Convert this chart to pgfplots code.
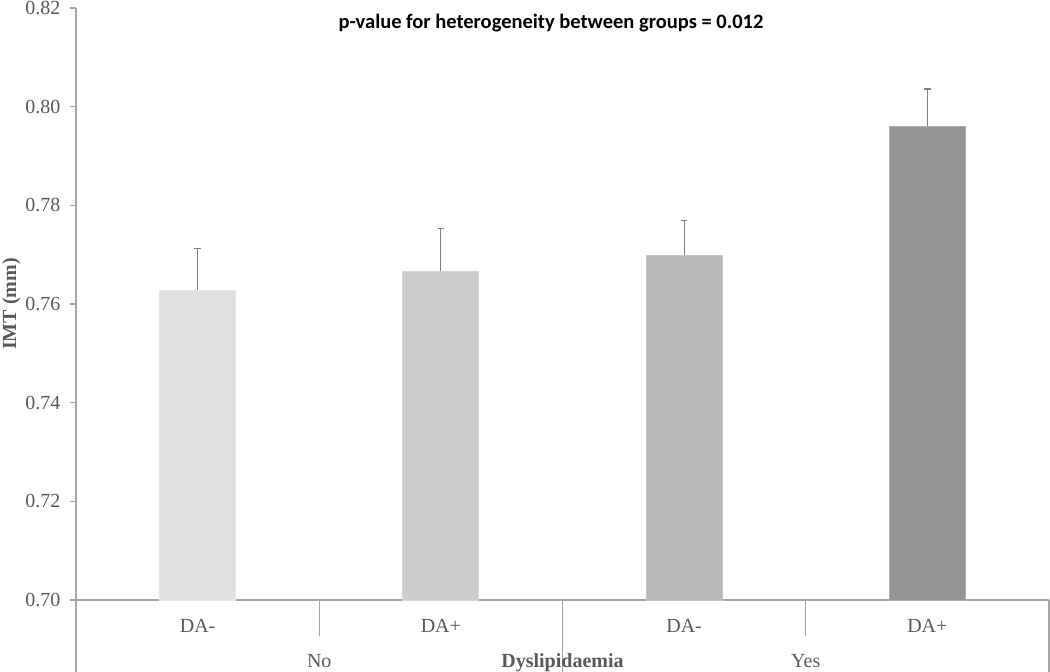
\documentclass[border=0pt]{standalone}
\usepackage{pgfplots}
\pgfplotsset{compat=1.18}
\usepackage{fontspec}
\setmainfont{Liberation Serif}
\newfontfamily\titlefont{Carlito}
\definecolor{axisgray}{HTML}{A6A6A6}
\definecolor{textgray}{HTML}{595959}
\definecolor{errgray}{HTML}{7F7F7F}
\definecolor{cA}{HTML}{E0E0E0}
\definecolor{cB}{HTML}{CCCCCC}
\definecolor{cC}{HTML}{B8B8B8}
\definecolor{cD}{HTML}{959595}
\begin{document}
\begin{tikzpicture}
\useasboundingbox (0,0) rectangle (1050bp,672bp);
\begin{axis}[
  at={(76bp,72bp)}, anchor=south west,
  scale only axis, width=973bp, height=592bp,
  xmin=-0.5, xmax=3.5, ymin=0.70, ymax=0.82,
  clip=false,
  axis x line*=bottom, axis y line*=left,
  axis line style={draw=axisgray, line width=1.2bp},
  ytick={0.70,0.72,0.74,0.76,0.78,0.80,0.82},
  yticklabel style={/pgf/number format/fixed, /pgf/number format/fixed zerofill, /pgf/number format/precision=2},
  /pgf/number format/assume math mode=true,
  xtick={0,1,2,3}, xticklabels={DA-,DA+,DA-,DA+},
  major x tick style={draw=none},
  major y tick style={draw=axisgray, line width=1.2bp},
  tick align=outside, major tick length=6bp,
  ticklabel style={font=\fontsize{20bp}{24bp}\selectfont, text=textgray},
  xticklabel style={anchor=base, yshift=-26bp},
  yticklabel style={xshift=-6bp},
  ybar, bar width=76bp,
]
\addplot[ybar, bar shift=0pt, fill=cA, draw=cA!80!white, line width=0.8bp,
  error bars/.cd, y dir=plus, y explicit,
  error bar style={draw=errgray, line width=1.2bp},
  error mark options={rotate=90, mark size=3.2bp, draw=errgray, line width=1.2bp}]
  coordinates {(0,0.7628) +- (0,0.0085)};
\addplot[ybar, bar shift=0pt, fill=cB, draw=cB!80!white, line width=0.8bp,
  error bars/.cd, y dir=plus, y explicit,
  error bar style={draw=errgray, line width=1.2bp},
  error mark options={rotate=90, mark size=3.2bp, draw=errgray, line width=1.2bp}]
  coordinates {(1,0.7666) +- (0,0.0087)};
\addplot[ybar, bar shift=0pt, fill=cC, draw=cC!80!white, line width=0.8bp,
  error bars/.cd, y dir=plus, y explicit,
  error bar style={draw=errgray, line width=1.2bp},
  error mark options={rotate=90, mark size=3.2bp, draw=errgray, line width=1.2bp}]
  coordinates {(2,0.7699) +- (0,0.0071)};
\addplot[ybar, bar shift=0pt, fill=cD, draw=cD!75!white, line width=0.8bp,
  error bars/.cd, y dir=plus, y explicit,
  error bar style={draw=errgray, line width=1.2bp},
  error mark options={rotate=90, mark size=3.2bp, draw=errgray, line width=1.2bp}]
  coordinates {(3,0.7961) +- (0,0.0075)};
% category separators
\draw[axisgray, line width=1.2bp] (axis cs:-0.5,0.70) -- ([yshift=-72bp]axis cs:-0.5,0.70);
\draw[axisgray, line width=1.2bp] (axis cs:0.5,0.70) -- ([yshift=-36bp]axis cs:0.5,0.70);
\draw[axisgray, line width=1.2bp] (axis cs:1.5,0.70) -- ([yshift=-72bp]axis cs:1.5,0.70);
\draw[axisgray, line width=1.2bp] (axis cs:2.5,0.70) -- ([yshift=-36bp]axis cs:2.5,0.70);
\draw[axisgray, line width=1.2bp] (axis cs:3.5,0.70) -- ([yshift=-72bp]axis cs:3.5,0.70);
% group labels
\node[anchor=base, text=textgray, font=\fontsize{20bp}{24bp}\selectfont] at ([yshift=-67bp]axis cs:0.5,0.70) {No};
\node[anchor=base, text=textgray, font=\fontsize{20bp}{24bp}\selectfont] at ([yshift=-67bp]axis cs:2.5,0.70) {Yes};
\node[anchor=base, text=textgray, font=\bfseries\fontsize{20bp}{24bp}\selectfont] at ([yshift=-67bp]axis cs:1.5,0.70) {Dyslipidaemia};
\end{axis}
\node[anchor=base, rotate=90, text=textgray, font=\bfseries\fontsize{20bp}{24bp}\selectfont] at (16bp,368bp) {IMT (mm)};
\node[anchor=base, font=\titlefont\bfseries\fontsize{20.5bp}{24bp}\selectfont] at (551bp,643bp) {p-value for heterogeneity between groups = 0.012};
\end{tikzpicture}
\end{document}
